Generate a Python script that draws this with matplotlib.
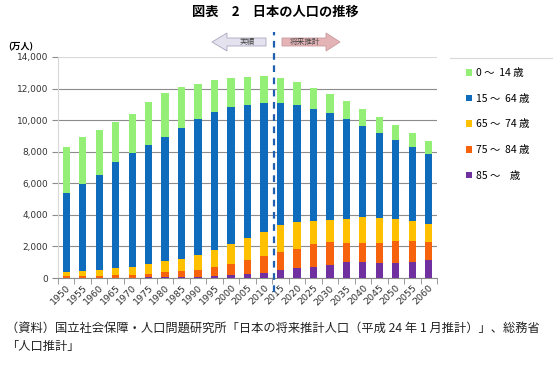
import matplotlib
matplotlib.use("Agg")
import matplotlib.pyplot as plt
from matplotlib.patches import Polygon
from matplotlib.lines import Line2D
import numpy as np

plt.rcParams['font.family'] = ['Noto Sans CJK JP', 'DejaVu Sans']

years = [1950, 1955, 1960, 1965, 1970, 1975, 1980, 1985, 1990, 1995, 2000, 2005,
         2010, 2015, 2020, 2025, 2030, 2035, 2040, 2045, 2050, 2055, 2060]
# 万人
age85 = [5, 8, 12, 18, 26, 41, 55, 70, 90, 115, 170, 275, 340, 490, 610, 690, 800,
         990, 990, 950, 950, 990, 1110]
age75_84 = [95, 115, 135, 150, 185, 220, 300, 355, 445, 570, 690, 845, 1060, 1140,
            1230, 1480, 1460, 1230, 1230, 1270, 1400, 1360, 1170]
age65_74 = [300, 340, 385, 440, 510, 600, 700, 790, 920, 1110, 1300, 1410, 1520,
            1740, 1720, 1460, 1400, 1500, 1620, 1600, 1360, 1230, 1170]
age15_64 = [4970, 5480, 6020, 6720, 7190, 7590, 7880, 8260, 8600, 8720, 8650, 8450,
            8180, 7700, 7370, 7100, 6790, 6350, 5800, 5380, 5040, 4730, 4430]
age0_14 = [2950, 3010, 2840, 2540, 2490, 2690, 2760, 2610, 2240, 2000, 1840, 1770,
           1700, 1580, 1470, 1330, 1210, 1130, 1060, 1000, 950, 880, 800]

series = [
    (age85, '#7030a0', '85 ～    歳'),
    (age75_84, '#f7630c', '75 ～  84 歳'),
    (age65_74, '#ffc000', '65 ～  74 歳'),
    (age15_64, '#0f6cbd', '15 ～  64 歳'),
    (age0_14, '#94ef76', '0 ～  14 歳'),
]

W, H = 553, 367
fig = plt.figure(figsize=(W / 100, H / 100), dpi=100)
ax = fig.add_axes([58 / W, 1 - 278 / H, (437 - 58) / W, (278 - 57) / H])

x = np.arange(len(years))
bottom = np.zeros(len(years))
handles = []
for vals, col, lab in series:
    b = ax.bar(x, vals, 0.44, bottom=bottom, color=col, label=lab, zorder=3)
    bottom += np.array(vals)
    handles.append(b)

ax.set_xlim(-0.5, len(years) - 0.5)
ax.set_ylim(0, 14000)
ax.set_yticks(range(0, 14001, 2000))
ax.set_yticklabels([f'{v:,}' for v in range(0, 14001, 2000)], fontsize=6.5,
                   family='DejaVu Sans', color='#333333')
ax.grid(axis='y', color='#8c8c8c', linewidth=0.8, zorder=0)
ax.get_ygridlines()[-1].set_color('#d9d9d9')
ax.tick_params(axis='y', length=4, color='#8c8c8c', pad=3)

ax.set_xticks(x)
ax.set_xticklabels([str(y) for y in years], rotation=45, ha='right',
                   rotation_mode='anchor', fontsize=6.8, family='DejaVu Sans',
                   color='#333333')
ax.tick_params(axis='x', which='major', length=0, pad=4)
ax.set_xticks(np.arange(-0.5, len(years), 1), minor=True)
ax.tick_params(axis='x', which='minor', length=4, color='#8c8c8c')

for s in ['top', 'right']:
    ax.spines[s].set_visible(False)
ax.spines['left'].set_color('#d9d9d9')
ax.spines['bottom'].set_color('#8c8c8c')

# 実績 / 将来推計 の区切り
ax.plot([12.62, 12.62], [-900, 15600], color='#1f5fb0', linewidth=1.6,
        linestyle=(0, (3, 2.5)), clip_on=False, zorder=5)


def fp(px, py):
    return (px / W, 1 - py / H)


left_arrow = [fp(212, 42), fp(227, 33), fp(227, 38), fp(266, 38), fp(266, 46),
              fp(227, 46), fp(227, 51)]
fig.patches.append(Polygon(left_arrow, closed=True, transform=fig.transFigure,
                           facecolor='#e4e2ee', edgecolor='#a9a6c0', linewidth=0.6))
right_arrow = [fp(340, 42), fp(326, 33), fp(326, 38), fp(282, 38), fp(282, 46),
               fp(326, 46), fp(326, 51)]
fig.patches.append(Polygon(right_arrow, closed=True, transform=fig.transFigure,
                           facecolor='#e3b3b6', edgecolor='#c99a9e', linewidth=0.6))
fig.text(*fp(247, 42), '実績', fontsize=5.5, ha='center', va='center', color='#444444')
fig.text(*fp(305, 42), '将来推計', fontsize=5.5, ha='center', va='center', color='#444444')

fig.lines.append(Line2D([450 / W, 1], [1 - 57.5 / H] * 2, transform=fig.transFigure,
                        color='#d9d9d9', linewidth=0.8))

fig.legend(handles[::-1], [s[2] for s in series][::-1], loc='upper left',
           bbox_to_anchor=(461 / W, 1 - 63 / H), frameon=False, fontsize=7.5,
           handlelength=0.6, handleheight=0.6, handletextpad=0.3,
           labelspacing=1.5, borderpad=0)

fig.text(*fp(275, 12), '図表　2　日本の人口の推移', fontsize=9.5, fontweight='bold',
         ha='center', va='center')
fig.text(*fp(8, 47), '(万人)', fontsize=6.5, fontweight='bold', ha='left', va='center')

fig.text(*fp(6, 328), '（資料）国立社会保障・人口問題研究所「日本の将来推計人口（平成 24 年 1 月推計）」、総務省',
         fontsize=8.8, ha='left', va='center', color='#222222')
fig.text(*fp(6, 346), '「人口推計」', fontsize=8.8, ha='left', va='center', color='#222222')

fig.savefig('out.png', dpi=100)
